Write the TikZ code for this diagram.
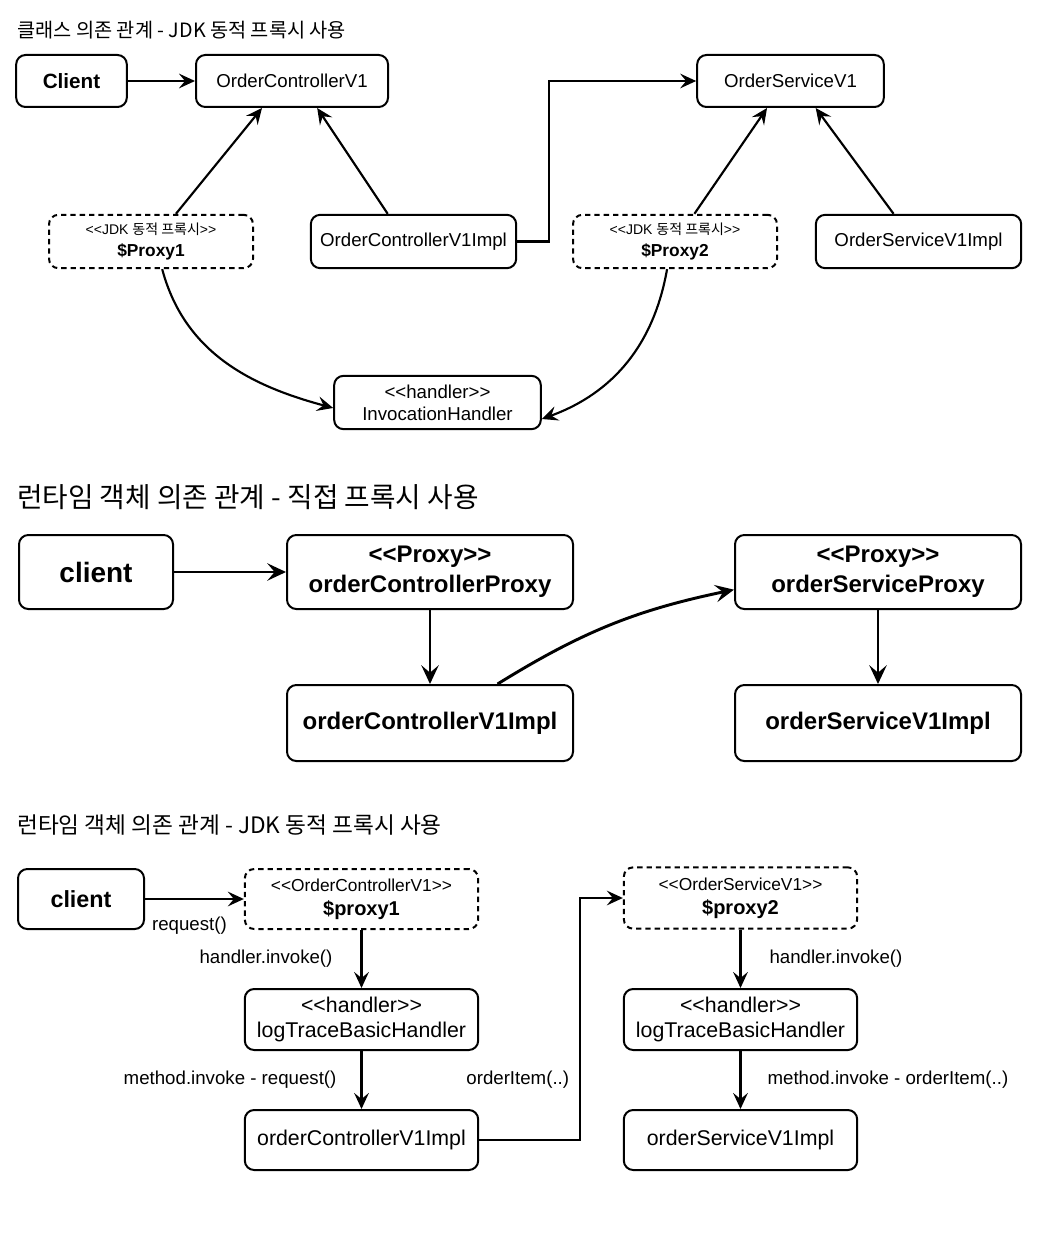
\documentclass[tikz,border=0pt]{standalone}
\usepackage{fontspec}
\setmainfont{Liberation Sans}
\newfontfamily\kr{Noto Sans CJK KR}
\usetikzlibrary{arrows.meta}

\tikzset{
  box/.style={draw, line width=1.5pt, rounded corners=7pt, inner sep=1pt, align=center},
  dynbox/.style={box, dash pattern=on 4pt off 3pt},
  link/.style={line width=1.6pt, -{Stealth[length=12pt, width=11pt, inset=4.5pt]}},
  bigLink/.style={line width=2.2pt, -{Stealth[length=14pt, width=13pt, inset=5.5pt]}},
  title/.style={anchor=west, inner sep=0pt},
  lbl/.style={inner sep=0pt, font=\fontsize{14}{17}\selectfont},
}

\begin{document}
\begin{tikzpicture}[x=0.75pt, y=0.75pt]
\useasboundingbox (0,0) rectangle (1060,-1234);

% 클래스 의존 관계
\node[title, font=\kr\fontsize{14.8}{18}\selectfont] (title1) at (17,-30) {클래스 의존 관계 - JDK 동적 프록시 사용};
\node[box, minimum width=83pt, minimum height=39pt, font=\bfseries\fontsize{15.5}{18}\selectfont] (client1) at (71.5,-81) {Client};
\node[box, minimum width=144pt, minimum height=39pt, font=\fontsize{14}{17}\selectfont] (ctrl1) at (292,-81) {OrderControllerV1};
\node[box, minimum width=140pt, minimum height=39pt, font=\fontsize{14}{17}\selectfont] (svc1) at (790.5,-81) {OrderServiceV1};
\node[dynbox, minimum width=153pt, minimum height=40pt, font=\fontsize{13}{16}\selectfont] (proxy1) at (151,-241.5)
  {{\fontsize{10.5}{13}\selectfont <{}<JDK {\kr 동적 프록시}>{}>}\\ \textbf{\$Proxy1}};
\node[box, minimum width=154pt, minimum height=40pt, font=\fontsize{14}{17}\selectfont] (ctrlImpl1) at (413.5,-241.5) {OrderControllerV1Impl};
\node[dynbox, minimum width=153pt, minimum height=40pt, font=\fontsize{13}{16}\selectfont] (proxy2) at (675,-241.5)
  {{\fontsize{10.5}{13}\selectfont <{}<JDK {\kr 동적 프록시}>{}>}\\ \textbf{\$Proxy2}};
\node[box, minimum width=154pt, minimum height=40pt, font=\fontsize{14}{17}\selectfont] (svcImpl1) at (918.5,-241.5) {OrderServiceV1Impl};
\node[box, minimum width=155pt, minimum height=40pt, font=\fontsize{14}{16.5}\selectfont] (handler1) at (437.5,-402.5) {<{}<handler>{}>\\InvocationHandler};

\draw[link] (client1.east) -- (ctrl1.west);
\draw[link] (proxy1.48) -- (ctrl1.222);
\draw[link] (ctrlImpl1.133) -- (ctrl1.313);
\draw[link] (ctrlImpl1.east) -- ++(32,0) |- (svc1.west);
\draw[link] (proxy2.55) -- (svc1.229);
\draw[link] (svcImpl1.132) -- (svc1.313);
\draw[link] (proxy1.292) to[out=-75, in=165] (handler1.183);
\draw[link] (proxy2.254) to[out=-100, in=20] (handler1.351);

% 직접 프록시
\node[title, font=\kr\fontsize{20.8}{25}\selectfont] (title2) at (17,-497) {런타임 객체 의존 관계 - 직접 프록시 사용};
\node[box, minimum width=115.5pt, minimum height=55.5pt, font=\bfseries\fontsize{21}{25}\selectfont] (client2) at (96,-572) {client};
\node[box, minimum width=214.5pt, minimum height=55.5pt, font=\bfseries\fontsize{18}{22.5}\selectfont] (ctrlProxy) at (430,-572) {<{}<Proxy>{}>\\orderControllerProxy};
\node[box, minimum width=214.5pt, minimum height=55.5pt, font=\bfseries\fontsize{18}{22.5}\selectfont] (svcProxy) at (878,-572) {<{}<Proxy>{}>\\orderServiceProxy};
\node[box, minimum width=214.5pt, minimum height=57pt, font=\bfseries\fontsize{18}{22.5}\selectfont] (ctrlImpl2) at (430,-723) {orderControllerV1Impl};
\node[box, minimum width=214.5pt, minimum height=57pt, font=\bfseries\fontsize{18}{22.5}\selectfont] (svcImpl2) at (878,-723) {orderServiceV1Impl};

\draw[bigLink] (client2.east) -- (ctrlProxy.west);
\draw[bigLink] (ctrlProxy.south) -- (ctrlImpl2.north);
\draw[bigLink] (ctrlImpl2.30) to[bend left=10] (svcProxy.187);
\draw[bigLink] (svcProxy.south) -- (svcImpl2.north);

% JDK 동적 프록시
\node[title, font=\kr\fontsize{17}{20}\selectfont] (title3) at (17,-825) {런타임 객체 의존 관계 - JDK 동적 프록시 사용};
\node[box, minimum width=94.5pt, minimum height=45pt, font=\bfseries\fontsize{17.5}{21}\selectfont] (client3) at (81,-899) {client};
\node[dynbox, minimum width=175pt, minimum height=45pt, font=\fontsize{15}{18}\selectfont] (proxy31) at (361.5,-899)
  {{\fontsize{13}{16}\selectfont <{}<OrderControllerV1>{}>}\\ \textbf{\$proxy1}};
\node[box, minimum width=175pt, minimum height=45.75pt, font=\fontsize{16}{19}\selectfont] (handler31) at (361.5,-1019.5) {<{}<handler>{}>\\logTraceBasicHandler};
\node[box, minimum width=175pt, minimum height=45pt, font=\fontsize{16}{19}\selectfont] (ctrlImpl3) at (361.5,-1140) {orderControllerV1Impl};
\node[dynbox, minimum width=175pt, minimum height=46pt, font=\fontsize{15}{18}\selectfont] (proxy32) at (740.5,-898)
  {{\fontsize{13}{16}\selectfont <{}<OrderServiceV1>{}>}\\ \textbf{\$proxy2}};
\node[box, minimum width=175pt, minimum height=45.75pt, font=\fontsize{16}{19}\selectfont] (handler32) at (740.5,-1019.5) {<{}<handler>{}>\\logTraceBasicHandler};
\node[box, minimum width=175pt, minimum height=45pt, font=\fontsize{16}{19}\selectfont] (svcImpl3) at (740.5,-1140) {orderServiceV1Impl};

\draw[link] (client3.east) -- node[lbl, below=13pt, pos=0.45] {request()} (proxy31.west);
\draw[link] (proxy31.south) -- node[lbl, left=21pt] {handler.invoke()} (handler31.north);
\draw[link] (handler31.south) -- node[lbl, left=18pt] {method.invoke - request()} (ctrlImpl3.north);
\draw[link] (ctrlImpl3.east) -- ++(101,0) |- node[lbl, pos=0.124, left=7.5pt] {orderItem(..)} (proxy32.west);
\draw[link] (proxy32.south) -- node[lbl, right=21pt] {handler.invoke()} (handler32.north);
\draw[link] (handler32.south) -- node[lbl, right=19.5pt] {method.invoke - orderItem(..)} (svcImpl3.north);
\end{tikzpicture}
\end{document}
